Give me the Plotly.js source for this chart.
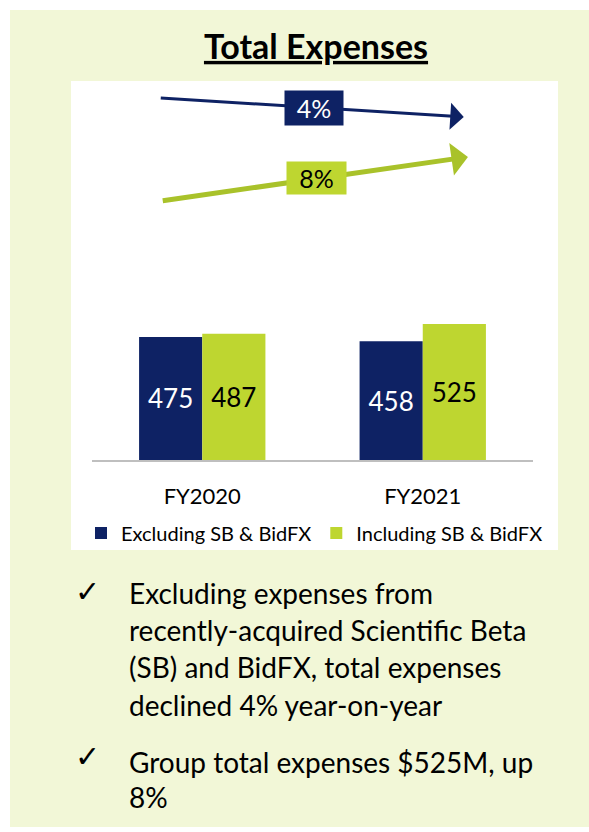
<!DOCTYPE html>
<html>
<head>
<meta charset="utf-8">
<script src="https://cdn.plot.ly/plotly-3.0.1.min.js"></script>
<style>
  html, body { margin: 0; padding: 0; background: #ffffff; }
  #chart { width: 589px; height: 832px; }
</style>
</head>
<body>
<div id="chart"></div>
<script>
// ---- data ----
const categories = ['FY2020', 'FY2021'];
const seriesNames = ['Excluding SB & BidFX', 'Including SB & BidFX'];
const excluding = [475, 458];
const including = [487, 525];
const growthLabels = ['4%', '8%'];
const titleText = 'Total Expenses';
const bulletLines = [
  ['Excluding expenses from', 'recently-acquired Scientific Beta', '(SB) and BidFX, total expenses', 'declined 4% year-on-year'],
  ['Group total expenses $525M, up', '8%']
];

// ---- style ----
const NAVY = '#0E2264';
const LIME = '#BED630';
const ARROW_GREEN = '#A9C22A';
const PANEL = '#F2F7D7';
const FONT = 'Lato, "Noto Sans", sans-serif';

const W = 589, H = 832;
const M = { l: 92, r: 56, t: 81, b: 372 };
const PW = W - M.l - M.r, PH = H - M.t - M.b;
const px = v => (v - M.l) / PW;          // pixel x -> paper x
const py = v => (H - M.b - v) / PH;      // pixel y -> paper y

const traces = [
  {
    type: 'bar', name: seriesNames[0], x: categories, y: excluding,
    text: excluding.map(String), textposition: 'inside', insidetextanchor: 'middle',
    textangle: 0, constraintext: 'none',
    insidetextfont: { family: FONT, size: 26, color: '#ffffff' },
    marker: { color: NAVY, line: { width: 0 } }, hoverinfo: 'skip'
  },
  {
    type: 'bar', name: seriesNames[1], x: categories, y: including,
    text: including.map(String), textposition: 'inside', insidetextanchor: 'middle',
    textangle: 0, constraintext: 'none',
    insidetextfont: { family: FONT, size: 26, color: '#000000' },
    marker: { color: LIME, line: { width: 0 } }, hoverinfo: 'skip'
  }
];

const annotations = [
  // trend arrows
  { xref: 'x', yref: 'y', axref: 'x', ayref: 'y', x: 1.186, y: 1324, ax: -0.195, ay: 1398,
    text: '', showarrow: true, arrowhead: 1, arrowsize: 1.5, arrowwidth: 3, arrowcolor: NAVY },
  { xref: 'x', yref: 'y', axref: 'x', ayref: 'y', x: 1.205, y: 1170, ax: -0.186, ay: 1000,
    text: '', showarrow: true, arrowhead: 1, arrowsize: 1.1, arrowwidth: 5, arrowcolor: ARROW_GREEN },
  // growth labels
  { xref: 'x', yref: 'y', x: 0.509, y: 1359, text: growthLabels[0], showarrow: false,
    bgcolor: NAVY, width: 56, height: 32, font: { family: FONT, size: 25, color: '#ffffff' } },
  { xref: 'x', yref: 'y', x: 0.518, y: 1089, text: growthLabels[1], showarrow: false,
    bgcolor: LIME, width: 57, height: 30, font: { family: FONT, size: 25, color: '#000000' } }
];

// bullets
const bulletCenters = [[593, 630, 667, 705], [762, 797]];
const checkCenters = [591, 756];
bulletLines.forEach((lines, i) => {
  annotations.push({ xref: 'paper', yref: 'paper', x: px(87), y: py(checkCenters[i]),
    xanchor: 'center', yanchor: 'middle', text: '✓', showarrow: false,
    font: { family: '"DejaVu Sans", sans-serif', size: 30, color: '#000000' } });
  lines.forEach((t, j) => {
    annotations.push({ xref: 'paper', yref: 'paper', x: px(127), y: py(bulletCenters[i][j]),
      xanchor: 'left', yanchor: 'middle', align: 'left', text: t, showarrow: false,
      font: { family: FONT, size: 28, color: '#000000' } });
  });
});

const shapes = [
  { type: 'rect', xref: 'paper', yref: 'paper', layer: 'below',
    x0: px(10), x1: px(600), y0: py(827), y1: py(10), fillcolor: PANEL, line: { width: 0 } },
  { type: 'rect', xref: 'paper', yref: 'paper', layer: 'below',
    x0: px(71), x1: px(558), y0: py(550), y1: py(81), fillcolor: '#ffffff', line: { width: 0 } }
];

const layout = {
  width: W, height: H,
  margin: M,
  paper_bgcolor: '#ffffff',
  plot_bgcolor: 'rgba(0,0,0,0)',
  font: { family: FONT, color: '#000000' },
  title: {
    text: '<b><u>' + titleText + '</u></b>',
    xref: 'container', yref: 'container', x: 316 / W, y: 1 - 47 / H,
    xanchor: 'center', yanchor: 'middle',
    font: { family: FONT, size: 34, color: '#000000' }
  },
  barmode: 'group', bargap: 0.427, bargroupgap: 0,
  xaxis: {
    type: 'category', range: [-0.5, 1.5], showline: true, linecolor: '#BFBFBF', linewidth: 2,
    showgrid: false, zeroline: false, ticks: '', ticklabelstandoff: 16,
    tickfont: { family: FONT, size: 22, color: '#000000' }, fixedrange: true
  },
  yaxis: {
    range: [0, 1463], visible: false, showgrid: false, zeroline: false, fixedrange: true
  },
  showlegend: true,
  legend: {
    orientation: 'h', x: px(81), xanchor: 'left', y: py(533), yanchor: 'middle',
    font: { family: FONT, size: 20, color: '#000000' }, bgcolor: 'rgba(0,0,0,0)',
    itemclick: false, itemdoubleclick: false
  },
  annotations: annotations,
  shapes: shapes
};

Plotly.newPlot('chart', traces, layout, { displayModeBar: false, staticPlot: true });
</script>
</body>
</html>
